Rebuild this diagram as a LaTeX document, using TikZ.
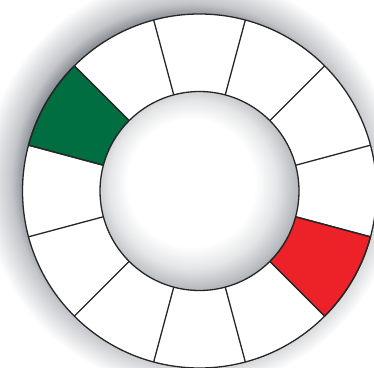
\documentclass[tikz,border=0pt]{standalone}
\usepackage{tikz}
\usetikzlibrary{
	positioning,
	shadings
}
\definecolor{wheelgreen}{RGB}{0,110,64}
\definecolor{wheelred}{RGB}{237,34,41}
\definecolor{haze}{RGB}{122,128,136}
\definecolor{rim}{RGB}{150,155,161}
\pgfdeclareradialshading{halo}{\pgfpoint{0bp}{0bp}}{
	color(0bp)=(haze); color(19.5bp)=(haze); color(21.5bp)=(haze!45!white);
	color(25bp)=(white); color(50bp)=(white)}
\pgfdeclareradialshading{hub}{\pgfpoint{-3bp}{3bp}}{
	color(0bp)=(white); color(16bp)=(white); color(21bp)=(rim!25!white);
	color(25bp)=(rim!60!white); color(29bp)=(rim); color(50bp)=(rim)}

\begin{document}
\begin{tikzpicture}[
			x=1pt,y=1pt,
			ring/.style={
				draw=black!85,
				line width=1.3pt
			},
			spoke/.style={
				draw=black!85,
				line width=1.3pt
			},
			sector/.style={
				draw=black!85,
				line width=1.3pt
			}
			]
			
			\useasboundingbox (0,0) rectangle (374,367);
			\coordinate (c) at (199.5,176);
			
			\shade[shading=halo] ([shift={(-9,9)}]c) circle (208pt);
			
			\fill[white] (c) circle (177pt);
			
			\path[sector,fill=wheelgreen] ([shift={(135:99.5pt)}]c) -- ([shift={(135:177pt)}]c)
				arc[start angle=135,end angle=165,radius=177pt]
				-- ([shift={(165:99.5pt)}]c)
				arc[start angle=165,end angle=135,radius=99.5pt] -- cycle;
			
			\path[sector,fill=wheelred] ([shift={(-45:99.5pt)}]c) -- ([shift={(-45:177pt)}]c)
				arc[start angle=-45,end angle=-15,radius=177pt]
				-- ([shift={(-15:99.5pt)}]c)
				arc[start angle=-15,end angle=-45,radius=99.5pt] -- cycle;
			
			\foreach \a in {15,45,...,345}
				\draw[spoke] ([shift={(\a:99.5pt)}]c) -- ([shift={(\a:177pt)}]c);
			
			\draw[ring] (c) circle (177pt);
			
			\shade[shading=hub] (c) circle (99.5pt);
			\draw[ring] (c) circle (99.5pt);
			
		\end{tikzpicture}
\end{document}
